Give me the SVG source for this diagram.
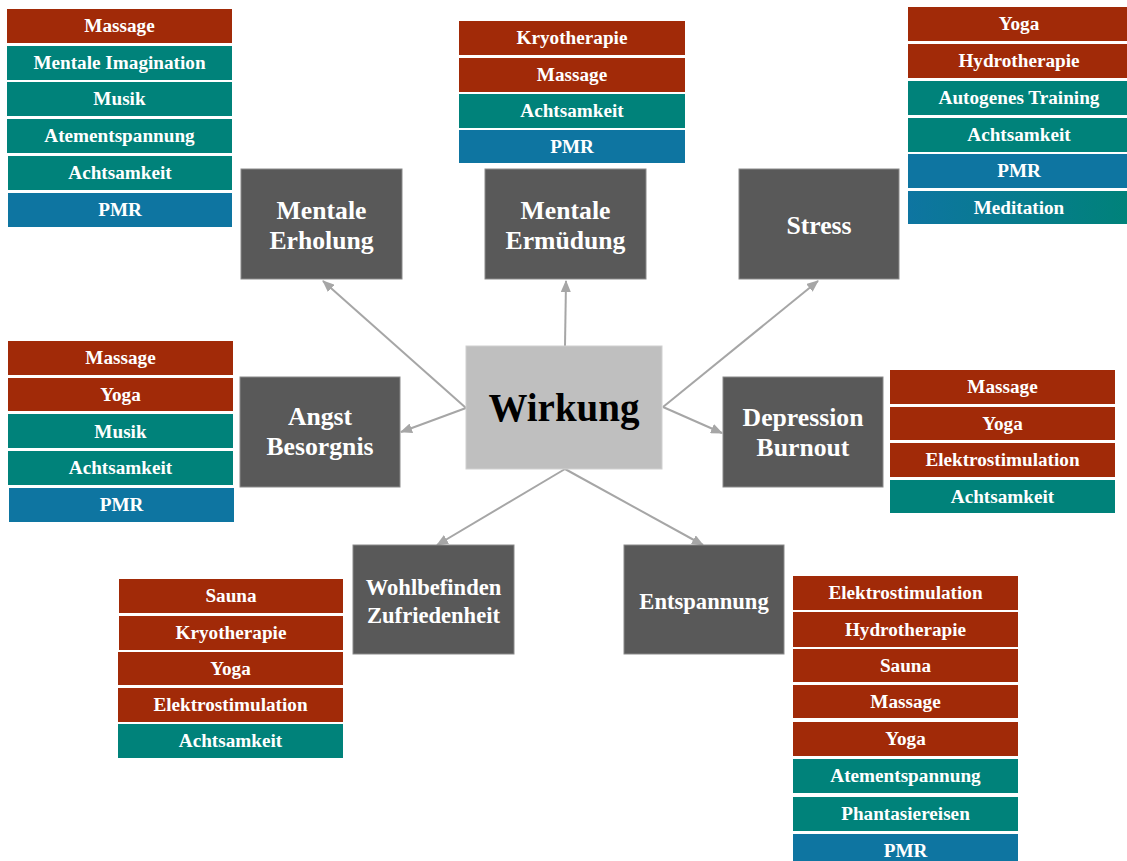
<svg xmlns="http://www.w3.org/2000/svg" width="1127" height="861" viewBox="0 0 1127 861">
<defs>
<style>
.r{fill:#A12A08}
.t{fill:#00827A}
.b{fill:#0E75A1}
.lt{font-family:"Liberation Serif","Times New Roman",serif;font-weight:bold;font-size:19.2px;fill:#ffffff;text-anchor:middle}
.nd{fill:#595959;stroke:#8a8a8a;stroke-width:1}
.nt{font-family:"Liberation Serif","Times New Roman",serif;font-weight:bold;font-size:25.7px;fill:#ffffff;text-anchor:middle}
.ns{font-size:22.6px}
.wk{fill:#BFBFBF;stroke:#d0d0d0;stroke-width:1}
.wt{font-family:"Liberation Serif","Times New Roman",serif;font-weight:bold;font-size:39px;fill:#000000;text-anchor:middle}
.cn{stroke:#A6A6A6;stroke-width:2;fill:none;marker-end:url(#ah)}
</style>
<linearGradient id="gm" x1="0" y1="0" x2="1" y2="0">
<stop offset="0" stop-color="#0E75A1"/>
<stop offset="1" stop-color="#00827A"/>
</linearGradient>
<marker id="ah" viewBox="0 0 12 10" markerUnits="userSpaceOnUse" markerWidth="12" markerHeight="10" refX="11" refY="5" orient="auto">
<path d="M0,0 L12,5 L0,10 z" fill="#A6A6A6"/>
</marker>
</defs>
<rect width="1127" height="861" fill="#ffffff"/>

<g id="connectors">
<line class="cn" x1="466" y1="408" x2="323" y2="281"/>
<line class="cn" x1="565" y1="346" x2="566" y2="281"/>
<line class="cn" x1="663" y1="407" x2="818" y2="281"/>
<line class="cn" x1="466" y1="408" x2="401" y2="432"/>
<line class="cn" x1="663" y1="407" x2="722" y2="433"/>
<line class="cn" x1="565" y1="469" x2="437" y2="545"/>
<line class="cn" x1="565" y1="469" x2="703" y2="545"/>
</g>

<g id="node-wirkung">
<rect class="wk" x="466" y="346" width="196" height="123"/>
<text class="wt" x="564" y="421">Wirkung</text>
</g>

<g id="node-mentale-erholung">
<rect class="nd" x="241" y="169" width="161" height="110"/>
<text class="nt" x="321.5" y="219">Mentale</text>
<text class="nt" x="321.5" y="249">Erholung</text>
</g>

<g id="node-mentale-ermuedung">
<rect class="nd" x="485" y="169" width="161" height="110"/>
<text class="nt" x="565.5" y="219">Mentale</text>
<text class="nt" x="565.5" y="249">Ermüdung</text>
</g>

<g id="node-stress">
<rect class="nd" x="739" y="169" width="160" height="110"/>
<text class="nt" x="819" y="234">Stress</text>
</g>

<g id="node-angst">
<rect class="nd" x="240" y="377" width="160" height="110"/>
<text class="nt" x="320" y="425">Angst</text>
<text class="nt" x="320" y="455">Besorgnis</text>
</g>

<g id="node-depression">
<rect class="nd" x="723" y="377" width="160" height="110"/>
<text class="nt" x="803" y="426">Depression</text>
<text class="nt" x="803" y="456">Burnout</text>
</g>

<g id="node-wohlbefinden">
<rect class="nd" x="353" y="545" width="161" height="109"/>
<text class="nt ns" x="433.5" y="595">Wohlbefinden</text>
<text class="nt ns" x="433.5" y="623">Zufriedenheit</text>
</g>

<g id="node-entspannung">
<rect class="nd" x="624" y="545" width="160" height="109"/>
<text class="nt ns" x="704" y="609">Entspannung</text>
</g>

<g id="list-mentale-erholung">
<rect class="r" x="7" y="9" width="225" height="34"/><text class="lt" x="119.5" y="32">Massage</text>
<rect class="t" x="7" y="46" width="225" height="34"/><text class="lt" x="119.5" y="69">Mentale Imagination</text>
<rect class="t" x="7" y="82" width="225" height="34"/><text class="lt" x="119.5" y="105">Musik</text>
<rect class="t" x="7" y="119" width="225" height="34"/><text class="lt" x="119.5" y="142">Atementspannung</text>
<rect class="t" x="8" y="156" width="224" height="34"/><text class="lt" x="120" y="179">Achtsamkeit</text>
<rect class="b" x="8" y="193" width="224" height="34"/><text class="lt" x="120" y="216">PMR</text>
</g>

<g id="list-mentale-ermuedung">
<rect class="r" x="459" y="21" width="226" height="34"/><text class="lt" x="572" y="44">Kryotherapie</text>
<rect class="r" x="459" y="58" width="226" height="34"/><text class="lt" x="572" y="81">Massage</text>
<rect class="t" x="459" y="94" width="226" height="34"/><text class="lt" x="572" y="117">Achtsamkeit</text>
<rect class="b" x="459" y="130" width="226" height="33"/><text class="lt" x="572" y="153">PMR</text>
</g>

<g id="list-stress">
<rect class="r" x="908" y="7" width="219" height="34"/><text class="lt" x="1019" y="30">Yoga</text>
<rect class="r" x="908" y="44" width="219" height="34"/><text class="lt" x="1019" y="67">Hydrotherapie</text>
<rect class="t" x="908" y="81" width="219" height="34"/><text class="lt" x="1019" y="104">Autogenes Training</text>
<rect class="t" x="908" y="118" width="219" height="34"/><text class="lt" x="1019" y="141">Achtsamkeit</text>
<rect class="b" x="908" y="154" width="219" height="34"/><text class="lt" x="1019" y="177">PMR</text>
<rect fill="url(#gm)" x="908" y="191" width="219" height="33"/><text class="lt" x="1019" y="214">Meditation</text>
</g>

<g id="list-angst">
<rect class="r" x="8" y="341" width="225" height="34"/><text class="lt" x="120.5" y="364">Massage</text>
<rect class="r" x="8" y="378" width="225" height="33"/><text class="lt" x="120.5" y="401">Yoga</text>
<rect class="t" x="8" y="414" width="225" height="34"/><text class="lt" x="120.5" y="438">Musik</text>
<rect class="t" x="8" y="451" width="225" height="34"/><text class="lt" x="120.5" y="474">Achtsamkeit</text>
<rect class="b" x="9" y="488" width="225" height="34"/><text class="lt" x="121.5" y="511">PMR</text>
</g>

<g id="list-depression">
<rect class="r" x="890" y="370" width="225" height="34"/><text class="lt" x="1002.5" y="393">Massage</text>
<rect class="r" x="890" y="407" width="225" height="33"/><text class="lt" x="1002.5" y="430">Yoga</text>
<rect class="r" x="890" y="443" width="225" height="34"/><text class="lt" x="1002.5" y="466">Elektrostimulation</text>
<rect class="t" x="890" y="480" width="225" height="33"/><text class="lt" x="1002.5" y="503">Achtsamkeit</text>
</g>

<g id="list-wohlbefinden">
<rect class="r" x="119" y="579" width="224" height="34"/><text class="lt" x="231" y="602">Sauna</text>
<rect class="r" x="119" y="616" width="224" height="34"/><text class="lt" x="231" y="639">Kryotherapie</text>
<rect class="r" x="118" y="652" width="225" height="33"/><text class="lt" x="230.5" y="675">Yoga</text>
<rect class="r" x="118" y="688" width="225" height="34"/><text class="lt" x="230.5" y="711">Elektrostimulation</text>
<rect class="t" x="118" y="724" width="225" height="34"/><text class="lt" x="230.5" y="747">Achtsamkeit</text>
</g>

<g id="list-entspannung">
<rect class="r" x="793" y="576" width="225" height="34"/><text class="lt" x="905.5" y="599">Elektrostimulation</text>
<rect class="r" x="793" y="612" width="225" height="35"/><text class="lt" x="905.5" y="636">Hydrotherapie</text>
<rect class="r" x="793" y="649" width="225" height="33"/><text class="lt" x="905.5" y="672">Sauna</text>
<rect class="r" x="793" y="685" width="225" height="33"/><text class="lt" x="905.5" y="708">Massage</text>
<rect class="r" x="793" y="722" width="225" height="34"/><text class="lt" x="905.5" y="745">Yoga</text>
<rect class="t" x="793" y="759" width="225" height="34"/><text class="lt" x="905.5" y="782">Atementspannung</text>
<rect class="t" x="793" y="797" width="225" height="34"/><text class="lt" x="905.5" y="820">Phantasiereisen</text>
<rect class="b" x="793" y="834" width="225" height="34"/><text class="lt" x="905.5" y="857">PMR</text>
</g>
</svg>
